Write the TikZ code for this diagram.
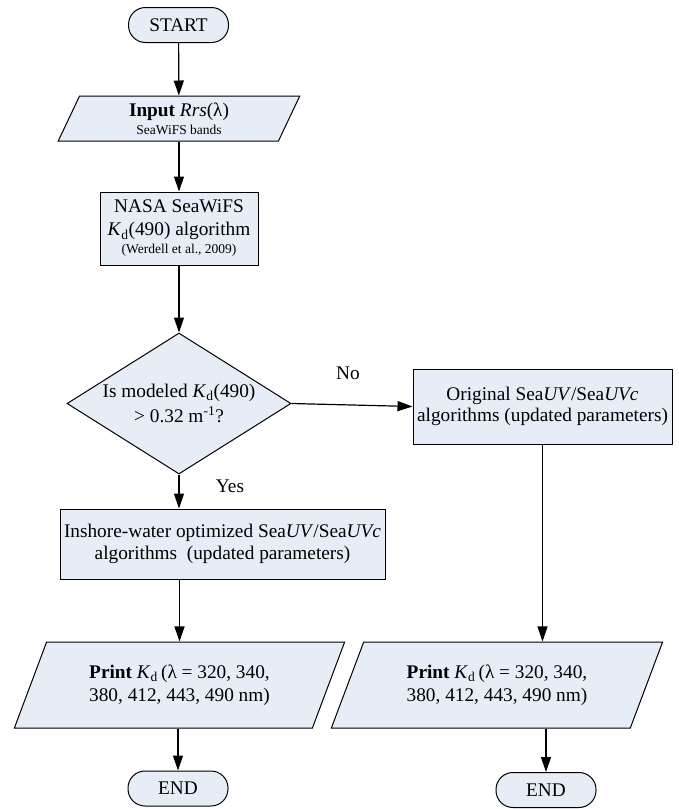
\documentclass[tikz,border=0pt]{standalone}
\usepackage{fontspec}
\setmainfont{Liberation Serif}
\usetikzlibrary{shapes.geometric,arrows.meta,shadows}
\definecolor{boxfill}{RGB}{231,237,247}
\newcommand{\mainsize}{\fontsize{19.3}{23}\selectfont}
\newcommand{\smallsize}{\fontsize{13.5}{17}\selectfont}
\newcommand{\Kd}{\textit{K}\textsubscript{d}}
\tikzset{
  base/.style={draw=black, line width=1pt, fill=boxfill, inner sep=2pt, align=center, font=\mainsize},
  terminal/.style={base, rectangle, rounded corners=17pt, minimum width=100pt, minimum height=35pt},
  process/.style={base, rectangle, drop shadow={shadow xshift=0.8pt, shadow yshift=-0.8pt, fill=black!55, opacity=1}},
  io/.style={base, trapezium, trapezium stretches=true},
  decision/.style={base, diamond, aspect=1.6, inner sep=0pt, minimum width=224pt, minimum height=141pt},
  flow/.style={-{Triangle[length=15pt,width=10pt]}, line width=1.2pt},
}

\begin{document}
\begin{tikzpicture}[x=1pt,y=-1pt]
\useasboundingbox (0,0) rectangle (678,809);

% main column
\node[terminal] (start) at (178.5,25) {START};
\node[io, trapezium left angle=72.7, trapezium right angle=107.3,
      minimum width=242pt, minimum height=45pt] (input) at (179,118.5)
      {\textbf{Input} \textit{Rrs}(λ)\\[-5pt]{\smallsize SeaWiFS bands}};
\node[process, minimum width=158pt, minimum height=73pt] (nasa) at (179,228.5)
      {NASA SeaWiFS\\\Kd(490) algorithm\\[-5pt]{\smallsize (Werdell et al., 2009)}};
\node[decision] (dec) at (179,403.5)
      {Is modeled \Kd(490)\\[2pt]> 0.32 m\textsuperscript{-1}?};
\node[process, minimum width=325pt, minimum height=70pt] (inshore) at (222.5,544)
      {Inshore-water optimized Sea\textit{UV}/Sea\textit{UVc}\\[-1pt]algorithms~ (updated parameters)};
\node[io, trapezium left angle=63.4, trapezium right angle=116.6,
      minimum width=331pt, minimum height=86pt] (printL) at (179.5,685)
      {\textbf{Print} \Kd\,(λ = 320, 340,\\380, 412, 443, 490 nm)};
\node[terminal] (endL) at (178,788.5) {END};

% right column
\node[process, minimum width=259pt, minimum height=75pt] (orig) at (542.5,406.5)
      {Original Sea\textit{UV}/Sea\textit{UVc}\\[-2pt]algorithms (updated parameters)};
\node[io, trapezium left angle=63.4, trapezium right angle=116.6,
      minimum width=332pt, minimum height=86pt] (printR) at (497,685)
      {\textbf{Print} \Kd\,(λ = 320, 340,\\380, 412, 443, 490 nm)};
\node[terminal] (endR) at (546,790) {END};

\node[font=\mainsize] (no) at (348,373) {No};
\node[font=\mainsize] (yes) at (230,486) {Yes};

\draw[flow] (start) -- (input);
\draw[flow] (input) -- (nasa);
\draw[flow] (nasa) -- (dec);
\draw[flow] (dec.east) -- (orig.west);
\draw[flow] (dec.south) -- (dec.south |- inshore.north);
\draw[flow] (printL.north |- inshore.south) -- (printL.north);
\draw[flow] (endL.north |- printL.south) -- (endL.north);
\draw[flow] (orig.south) -- (orig.south |- printR.north);
\draw[flow] (endR.north |- printR.south) -- (endR.north);

\end{tikzpicture}
\end{document}
